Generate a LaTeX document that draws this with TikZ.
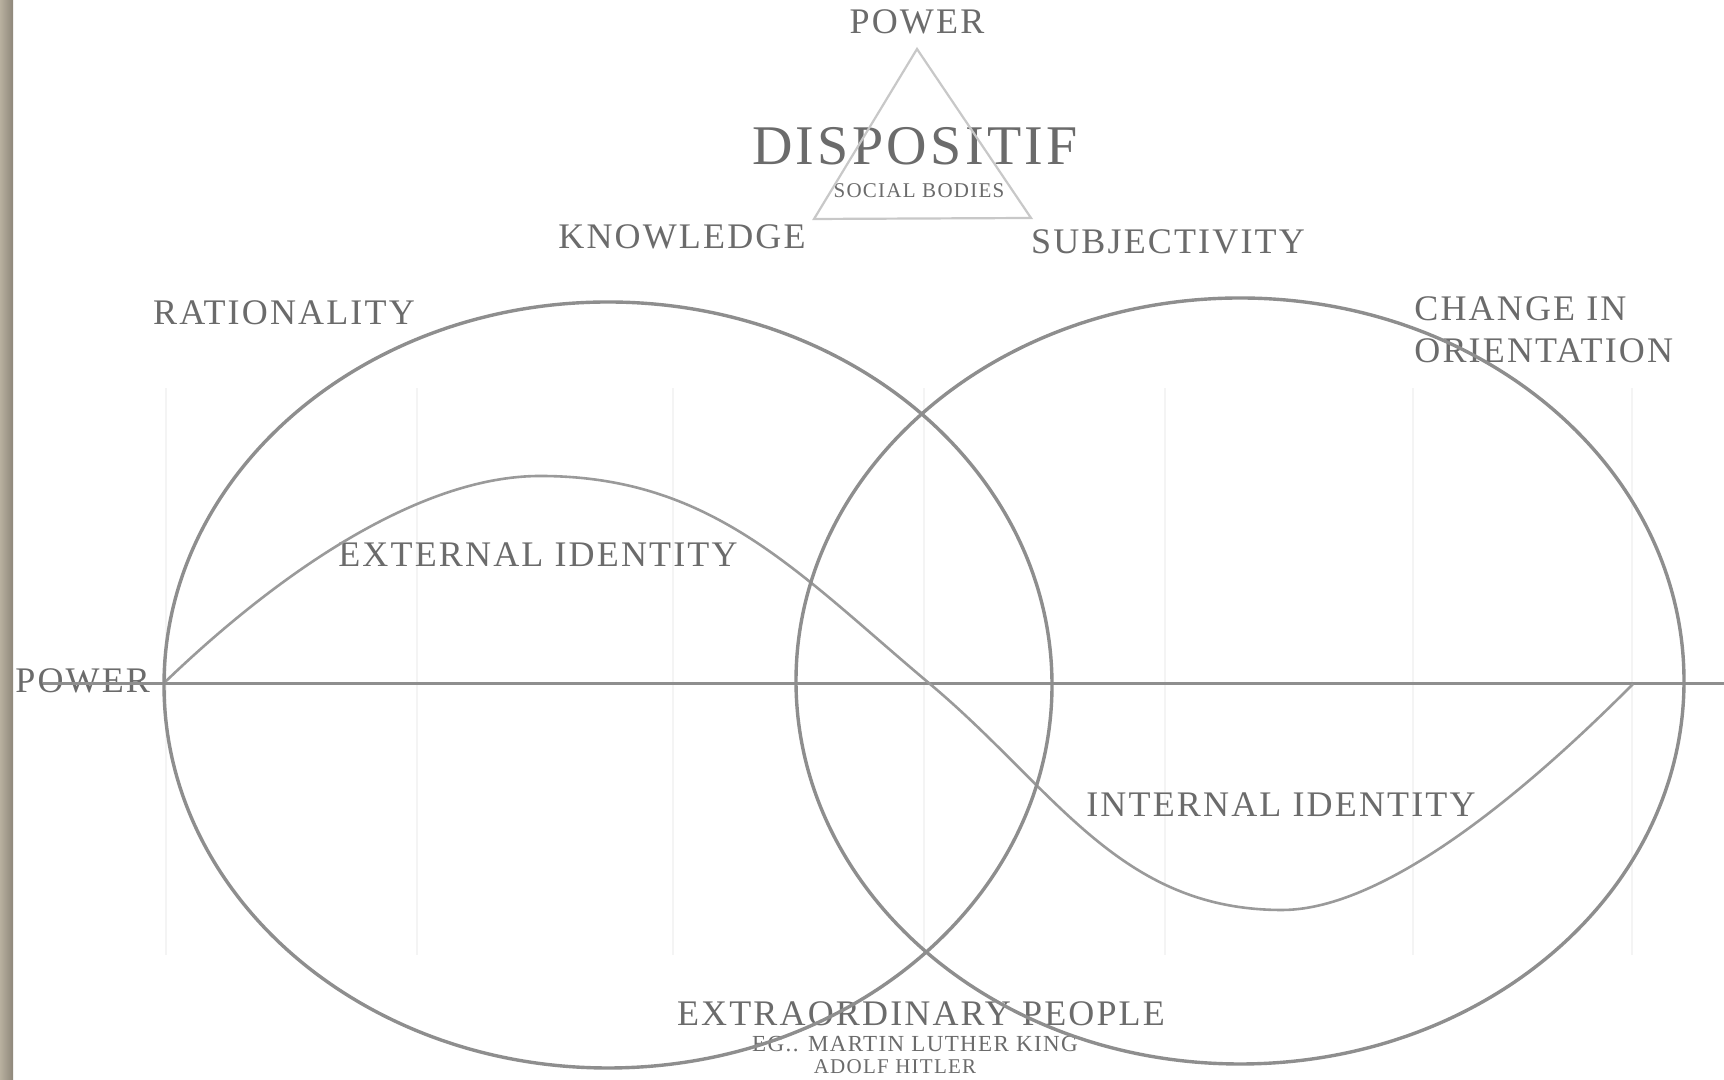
\documentclass[tikz,border=0pt]{standalone}
\usepackage{fontspec}
\setmainfont[LetterSpace=6]{Liberation Serif}
\usepackage{tikz}
\definecolor{txtgray}{HTML}{6B6B6B}
\definecolor{linegray}{HTML}{8E8E8E}
\definecolor{wavegray}{HTML}{9A9A9A}
\definecolor{trigray}{HTML}{C8C8C8}
\definecolor{gridgray}{HTML}{F4F4F4}
\definecolor{stripA}{HTML}{B8B09F}
\definecolor{stripB}{HTML}{8E877A}

\begin{document}
\begin{tikzpicture}[x=0.5pt,y=0.5pt,
        label/.style={text=txtgray,inner sep=0pt},
        big/.style={label,font=\fontsize{18}{21}\selectfont},
        small/.style={label,font=\fontsize{10.5}{12}\selectfont},
        ring/.style={draw=linegray,line width=1.7pt},
        wave/.style={draw=wavegray,line width=1.3pt},
        grid/.style={draw=gridgray,line width=0.6pt}]
        \fill[white] (0,0) rectangle (1724,1080);
        \useasboundingbox (0,0) rectangle (1724,1080);
        \shade[left color=stripA,right color=stripB] (0,0) rectangle (13,1080);
        \draw[grid] (166,125) -- (166,692);
        \draw[grid] (417,125) -- (417,692);
        \draw[grid] (673,125) -- (673,692);
        \draw[grid] (924,125) -- (924,692);
        \draw[grid] (1165,125) -- (1165,692);
        \draw[grid] (1413,125) -- (1413,692);
        \draw[grid] (1632,125) -- (1632,692);
        \node[big] (powtop) at (917,1058) {POWER};
        \node[label,font=\fontsize{28}{32}\selectfont] (disp) at (915,934) {DISPOSITIF};
        \node[small] (social) at (919,889) {SOCIAL BODIES};
        \node[big] (know) at (682,843) {KNOWLEDGE};
        \node[big] (subj) at (1168,838) {SUBJECTIVITY};
        \node[big] (ratio) at (284,767) {RATIONALITY};
        \node[big,anchor=west,align=left] (change) at (1414,750) {CHANGE IN\\ORIENTATION};
        \node[big] (extid) at (538,525) {EXTERNAL IDENTITY};
        \node[big,anchor=west] (powleft) at (15,399) {POWER};
        \node[big] (intid) at (1281,275) {INTERNAL IDENTITY};
        \node[big] (extra) at (921,66) {EXTRAORDINARY PEOPLE};
        \node[label,font=\fontsize{11.5}{13}\selectfont] (mlk) at (915,36) {EG.. MARTIN LUTHER KING};
        \node[small] (hitler) at (895,13) {ADOLF HITLER};
        \coordinate (ta) at (917,1031);
        \coordinate (tl) at (814,861);
        \coordinate (tr) at (1031,862);
        \draw[draw=trigray,line width=1.1pt] (ta) -- (tl) -- (tr) -- cycle;
        \coordinate (hl) at (43,396);
        \coordinate (hr) at (1724,396);
        \draw[draw=linegray,line width=1.5pt] (hl) -- (hr);
        \coordinate (w0) at (163,396);
        \coordinate (w1) at (540,604);
        \coordinate (w2) at (930,396);
        \coordinate (w3) at (1282,170);
        \coordinate (w4) at (1633,396);
        \draw[wave] (w0) .. controls (279,508) and (420,604) .. (w1) to[out=0,in=140] (w2) to[out=-40,in=180] (w3) .. controls (1403,170) and (1572,335) .. (w4);
        \draw[ring] (608,395) ellipse [x radius=222pt,y radius=191.5pt];
        \draw[ring] (1240,399) ellipse [x radius=222pt,y radius=191.5pt];
    \end{tikzpicture}
\end{document}
